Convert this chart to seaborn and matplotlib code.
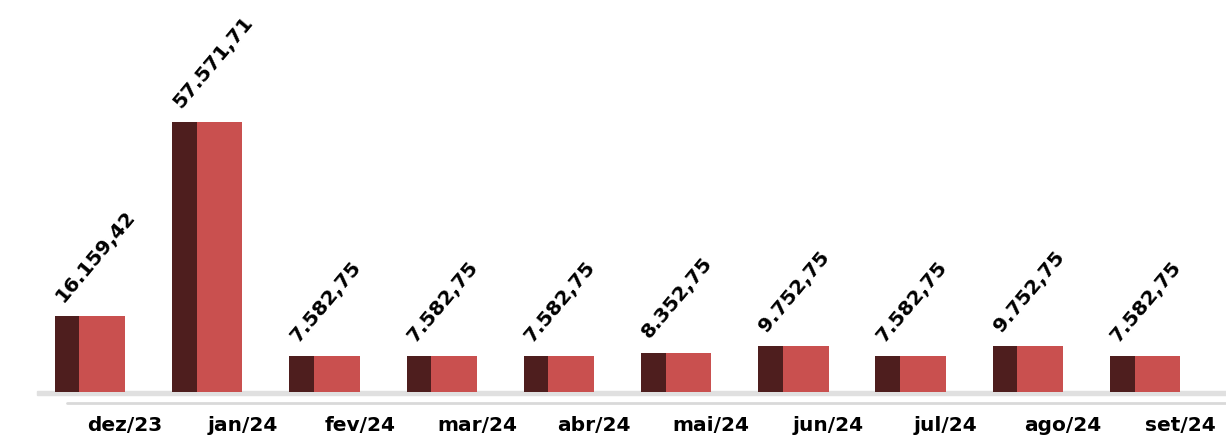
import matplotlib
matplotlib.use('Agg')
import matplotlib.pyplot as plt
import seaborn as sns
import numpy as np
import pandas as pd

# data
months = ['dez/23', 'jan/24', 'fev/24', 'mar/24', 'abr/24',
          'mai/24', 'jun/24', 'jul/24', 'ago/24', 'set/24']
values = [16159.42, 57571.71, 7582.75, 7582.75, 7582.75,
          8352.75, 9752.75, 7582.75, 9752.75, 7582.75]

red = '#c9504f'
dark = '#4e1e1e'


def fmt_br(v):
    # 57571.71 -> 57.571,71
    s = f'{v:,.2f}'
    return s.replace(',', '#').replace('.', ',').replace('#', '.')


df = pd.DataFrame({'month': months, 'value': values})

sns.set_style('white')
plt.rcParams['font.family'] = ['DejaVu Sans']

fig = plt.figure(figsize=(12.26, 4.38), dpi=100)
ax = fig.add_axes([0, 28 / 438, 1, 410 / 438])

# floor / shadow band
ax.axhspan(-700, 250, xmin=0.03, xmax=1, color='#e0e0e0', zorder=0)
ax.axhline(-2400, xmin=0.055, xmax=1, color='#d9d9d9', lw=2, zorder=0)

# front (lit) face of the bars
sns.barplot(data=df, x='month', y='value', color=red, width=0.6,
            saturation=1, linewidth=0, ax=ax, zorder=2)

# dark left face
x = np.arange(len(months))
ax.bar(x - 0.3, values, width=0.21, align='edge', color=dark,
       linewidth=0, zorder=3)

for i, v in enumerate(values):
    ax.text(i - 0.2, v + 2300, fmt_br(v), rotation=50, rotation_mode='anchor',
            ha='left', va='bottom', fontsize=14.5, fontweight='bold', color='black')

ax.set_xlim(-0.768, 9.69)
ax.set_ylim(-3838, 83580)
ax.set_xticks(x + 0.3, months)
ax.tick_params(axis='x', length=0, pad=4, labelsize=14.5, labelcolor='black')
for lab in ax.get_xticklabels():
    lab.set_fontweight('bold')
ax.set_yticks([])
ax.set_xlabel('')
ax.set_ylabel('')
for s in ax.spines.values():
    s.set_visible(False)

fig.savefig('out.png', dpi=100)
